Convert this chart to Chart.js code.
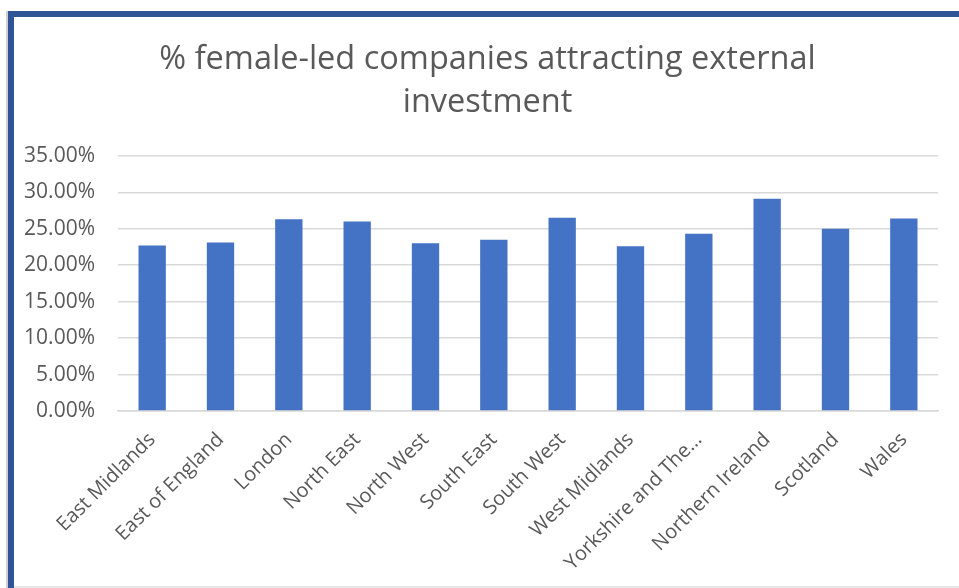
<!DOCTYPE html>
<html>
<head>
<meta charset="utf-8">
<script src="https://cdn.jsdelivr.net/npm/chart.js@4"></script>
<style>
  body { margin: 0; background: #fff; overflow: hidden; }
  #wrap { position: relative; width: 959px; height: 588px; }
  #frame {
    position: absolute; left: 8px; top: 11px; width: 1000px; height: 700px;
    border-top: 6px solid #2F5597; border-left: 6px solid #2F5597;
    box-shadow: -2px 0 0 #d0d0d0;
  }
  #bottomLine { position: absolute; left: 14px; top: 586px; width: 945px; height: 2px; background: #e6e6e6; }
  canvas { position: absolute; left: 0; top: 0; }
</style>
</head>
<body>
<div id="wrap">
  <div id="frame"></div>
  <div id="bottomLine"></div>
  <canvas id="barChart" width="959" height="588"></canvas>
</div>
<script>
var regions = ['East Midlands', 'East of England', 'London', 'North East', 'North West', 'South East',
               'South West', 'West Midlands', 'Yorkshire and The\u2026', 'Northern Ireland', 'Scotland', 'Wales'];
var femaleLedPct = [22.7, 23.1, 26.3, 26.0, 23.0, 23.5, 26.5, 22.6, 24.3, 29.1, 25.0, 26.4];
var yTicks = [0, 5, 10, 15, 20, 25, 30, 35];
var titleLines = ['% female-led companies attracting external', 'investment'];

var fontFamily = '"Open Sans", sans-serif';
var textColor = '#595959';
var gridColor = '#d9d9d9';

var ctx = document.getElementById('barChart').getContext('2d');
var myChart = new Chart(ctx, {
    type: 'bar',
    data: {
        labels: regions,
        datasets: [{
            label: 'Female-led',
            data: femaleLedPct,
            backgroundColor: '#4472C4',
            borderWidth: 0,
            barPercentage: 0.4,
            categoryPercentage: 1.0
        }]
    },
    options: {
        responsive: false,
        animation: false,
        layout: { padding: { left: 16, right: 0, top: 0, bottom: 0 } },
        plugins: {
            legend: { display: false },
            tooltip: { enabled: false },
            title: {
                display: true,
                text: titleLines,
                color: textColor,
                font: { family: fontFamily, size: 32.5, weight: 'normal', lineHeight: 1.32 },
                padding: { top: 38, bottom: 32 }
            }
        },
        scales: {
            x: {
                grid: { display: false, drawTicks: false },
                border: { display: true, color: gridColor, width: 1.5 },
                ticks: {
                    color: textColor,
                    font: { family: fontFamily, size: 20 },
                    minRotation: 45,
                    maxRotation: 45,
                    autoSkip: false,
                    padding: 17
                },
                afterFit: function(scale) { scale.height = 177; }
            },
            y: {
                min: 0,
                max: 35,
                afterBuildTicks: function(scale) {
                    scale.ticks = yTicks.map(function(v) { return { value: v }; });
                },
                grid: { color: gridColor, lineWidth: 1.5, drawTicks: false },
                border: { display: false },
                ticks: {
                    color: textColor,
                    font: { family: fontFamily, size: 21 },
                    padding: 23,
                    callback: function(v) { return v.toFixed(2) + '%'; }
                },
                afterFit: function(scale) { scale.width = 102; }
            },
            yRight: {
                position: 'right',
                display: true,
                grid: { display: false, drawTicks: false },
                border: { display: false },
                ticks: { display: false },
                afterFit: function(scale) { scale.width = 21; }
            }
        }
    }
});
</script>
</body>
</html>
